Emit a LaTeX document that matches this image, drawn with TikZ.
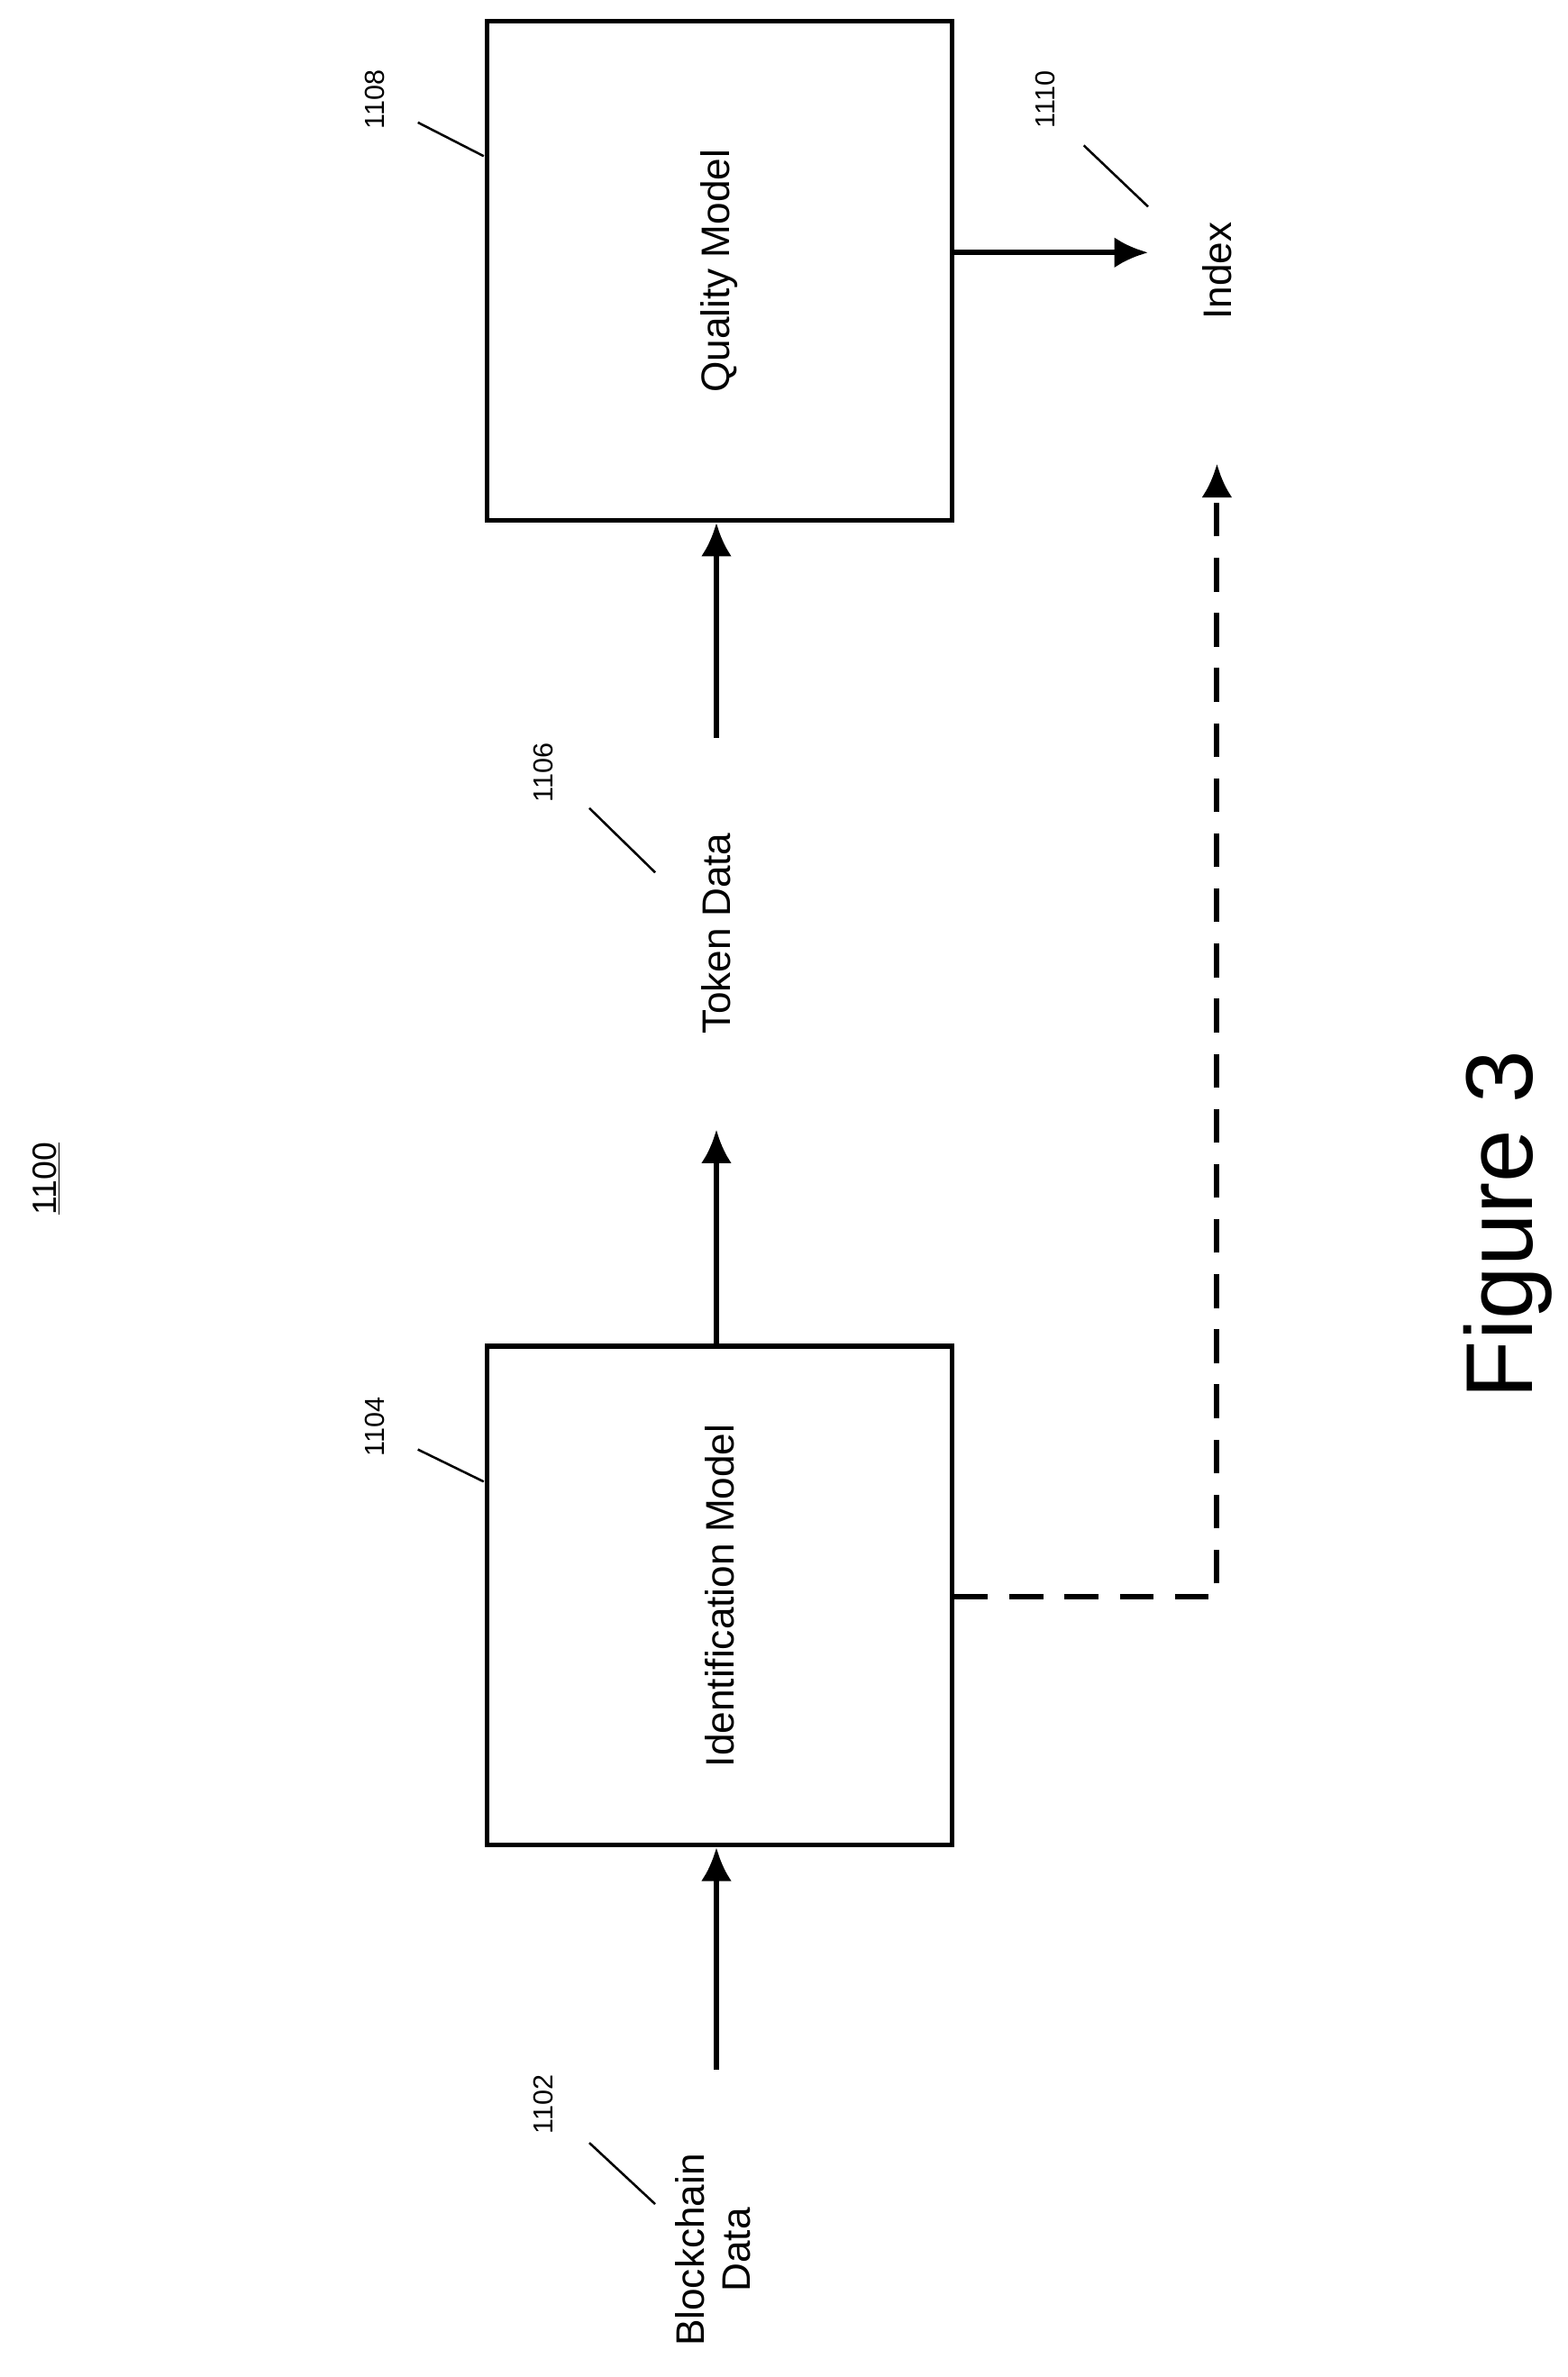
\documentclass[tikz,border=0pt]{standalone}
\usepackage{fontspec}
\setmainfont{Liberation Sans}
\usetikzlibrary{arrows.meta}
\begin{document}
\begin{tikzpicture}
[x=1pt, y=-1pt, every node/.style={inner sep=0pt},
 blk/.style={draw=black, line width=3pt, minimum width=304pt, minimum height=326pt},
 txt/.style={rotate=90, font=\fontsize{26}{30}\selectfont, align=center},
 ref/.style={rotate=90, font=\fontsize{18}{20}\selectfont},
 flow/.style={line width=3.5pt, -{Latex[length=22pt,width=20pt]}},
 lead/.style={line width=1.5pt}]
\useasboundingbox (0,0) rectangle (1024,1553);
\node (1108) [blk] at (470.0pt, -177.0pt) {};
\node (1104) [blk] at (470.0pt, -1042.5pt) {};
\node [txt] at (1108) {Quality Model};
\node [txt] at (1104) {Identification Model};
\node (1106) [txt] at (468.0pt, -610.0pt) {Token Data};
\node (1102) [txt] at (466.0pt, -1470.0pt) {Blockchain\\Data};
\node (1110) [txt] at (795.0pt, -177.0pt) {Index};
\coordinate (a) at (468.0pt, -482.0pt);
\coordinate (b) at (468.0pt, -738.0pt);
\coordinate (c) at (468.0pt, -1352.0pt);
\coordinate (d) at (750.0pt, -165.0pt);
\coordinate (e) at (795.0pt, -1043.0pt);
\coordinate (f) at (795.0pt, -303.0pt);
\draw [flow] (c) to (1104.south -| c);
\draw [flow] (1104.north -| b) to (b);
\draw [flow] (a) to (1108.south -| a);
\draw [flow] (1108.east |- d) to (d);
\draw [flow, dash pattern=on 22pt off 14pt] (1104.east |- e) -- (e) -- (f);
\node [ref] at (245.0pt, -65.0pt) {1108};
\node [ref] at (245.0pt, -932.0pt) {1104};
\node [ref] at (355.0pt, -505.0pt) {1106};
\node [ref] at (355.0pt, -1375.0pt) {1102};
\node [ref] at (683.0pt, -65.0pt) {1110};
\draw [lead] (273.0pt, -80.0pt) -- (316.0pt, -102.0pt);
\draw [lead] (273.0pt, -947.0pt) -- (316.0pt, -968.0pt);
\draw [lead] (385.0pt, -528.0pt) -- (428.0pt, -570.0pt);
\draw [lead] (385.0pt, -1400.0pt) -- (428.0pt, -1440.0pt);
\draw [lead] (708.0pt, -95.0pt) -- (750.0pt, -135.0pt);
\node [ref, font=\fontsize{22}{24}\selectfont] at (30.0pt, -770.0pt) {\underline{1100}};
\node [rotate=90, font=\fontsize{62}{70}\selectfont] at (985.0pt, -800.0pt) {Figure 3};
\end{tikzpicture}
\end{document}
